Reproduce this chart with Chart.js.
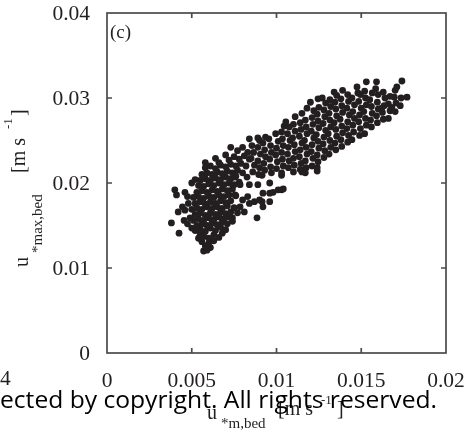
<!DOCTYPE html>
<html>
<head>
<meta charset="utf-8">
<title>u*max,bed vs u*m,bed</title>
<script src="https://cdn.jsdelivr.net/npm/chart.js@4/dist/chart.umd.min.js"></script>
<style>
  html, body { margin: 0; padding: 0; background: #ffffff; }
  canvas { display: block; }
</style>
</head>
<body>
<canvas id="scatterChart" width="466" height="432"></canvas>
<script>

// Axis ticks
const xTickLabels = ['0', '0.005', '0.01', '0.015', '0.02'];
const yTickLabels = ['0', '0.01', '0.02', '0.03', '0.04'];

// Dense cloud at low u*m,bed
const coreCluster = [
  [5.7, 12.0], [5.9, 12.1], [6.1, 12.4], [5.8, 12.6], [6.0, 12.9], [5.6, 13.1], [6.3, 13.2],
  [5.4, 13.5], [5.7, 13.7], [6.0, 13.5], [6.3, 13.9], [6.6, 13.6], [5.5, 14.0], [6.8, 14.1],
  [5.2, 14.4], [5.5, 14.6], [5.8, 14.3], [6.1, 14.7], [6.4, 14.4], [6.7, 14.8], [7.0, 14.5], [5.0, 14.7],
  [5.3, 15.0], [5.6, 15.2], [5.9, 15.0], [6.2, 15.3], [6.5, 15.1], [6.8, 15.4], [7.1, 15.2], [7.4, 15.5],
  [5.1, 15.6], [5.4, 15.8], [5.7, 15.6], [6.0, 15.9], [6.3, 15.7], [6.6, 16.0], [6.9, 15.8], [7.2, 16.0], [4.9, 15.9],
  [5.2, 16.3], [5.5, 16.5], [5.8, 16.2], [6.1, 16.5], [6.4, 16.3], [6.7, 16.6], [7.0, 16.4], [7.3, 16.6],
  [5.0, 16.9], [5.3, 17.1], [5.6, 16.9], [5.9, 17.2], [6.2, 17.0], [6.5, 17.2], [6.8, 17.0], [7.1, 17.3], [7.5, 17.1],
  [5.2, 17.6], [5.5, 17.8], [5.8, 17.5], [6.1, 17.8], [6.4, 17.6], [6.7, 17.9], [7.0, 17.7], [7.3, 17.9],
  [5.1, 18.3], [5.4, 18.4], [5.7, 18.2], [6.0, 18.5], [6.3, 18.3], [6.6, 18.6], [6.9, 18.4], [7.2, 18.6], [7.6, 18.5],
  [5.3, 18.9], [5.6, 19.1], [5.9, 18.9], [6.2, 19.2], [6.5, 19.0], [6.8, 19.3], [7.1, 19.1], [7.4, 19.3],
  [5.4, 19.7], [5.7, 19.6], [6.0, 19.9], [6.3, 19.7], [6.6, 20.0], [6.9, 19.8], [7.2, 20.0], [7.5, 19.8], [7.8, 20.1],
  [5.5, 20.3], [5.8, 20.5], [6.1, 20.3], [6.4, 20.6], [6.7, 20.4], [7.0, 20.7], [7.3, 20.5], [7.6, 20.8],
  [5.6, 21.0], [5.9, 21.2], [6.2, 21.0], [6.5, 21.3], [6.8, 21.1], [7.1, 21.4], [7.4, 21.2], [7.7, 21.5], [8.0, 21.2],
  [5.8, 21.8], [6.1, 22.0], [6.4, 21.7], [6.7, 22.1], [7.0, 21.9], [7.3, 22.2], [7.6, 22.0], [7.9, 22.3], [8.2, 22.0],
  [5.8, 22.4], [6.4, 22.9], [6.6, 22.4], [7.0, 23.3], [7.2, 22.7], [7.5, 23.1], [7.8, 22.8], [8.1, 23.2], [8.4, 22.8],
  [7.3, 24.2], [7.7, 23.8], [8.0, 24.2], [8.3, 23.6], [8.4, 25.2], [8.9, 25.3]
];

// Loose points to the left of the core
const leftScatter = [
  [3.8, 15.3], [4.25, 14.1], [4.55, 15.6], [4.75, 15.2], [4.2, 16.6], [4.45, 17.2], [4.6, 16.8],
  [4.8, 17.6], [4.0, 19.2], [4.1, 18.6], [4.6, 18.9], [4.75, 18.4], [5.0, 20.0], [5.2, 20.4]
];

// Sparse points between the core and the upper branch
const transition = [
  [7.4, 15.9], [7.7, 16.5], [8.1, 16.6], [7.85, 17.2], [8.0, 18.0], [7.55, 18.6], [8.3, 18.4],
  [8.85, 15.9], [9.2, 17.2], [9.6, 17.8], [9.15, 17.8], [8.7, 17.8], [8.4, 17.6], [9.0, 18.0],
  [9.2, 18.8], [9.6, 18.8], [9.8, 18.9], [10.3, 19.2], [10.4, 19.3], [10.1, 19.2], [9.6, 20.0],
  [8.9, 19.8], [8.4, 19.8], [7.85, 19.8], [7.55, 20.7], [8.26, 20.7], [9.15, 20.9], [9.7, 21.2],
  [10.3, 20.9], [11.0, 21.3], [11.7, 21.2], [11.5, 21.3], [12.4, 21.4], [12.4, 21.8]
];

// Upper branch, u*m,bed > 0.0085
const upperBranch = [
  [8.6, 21.3], [8.7, 22.1], [8.5, 22.9], [8.65, 23.6], [8.55, 24.4],
  [8.95, 21.0], [9.0, 21.8], [8.9, 22.6], [9.05, 23.4], [8.9, 24.2], [9.0, 25.0],
  [9.3, 21.5], [9.25, 22.3], [9.35, 23.1], [9.3, 23.9], [9.2, 24.7], [9.35, 25.4],
  [9.65, 21.9], [9.6, 22.8], [9.7, 23.6], [9.65, 24.4], [9.55, 25.2],
  [10.0, 21.7], [10.05, 22.5], [9.95, 23.3], [10.0, 24.1], [10.1, 24.9], [9.95, 25.8],
  [10.3, 21.2], [10.4, 22.0], [10.35, 22.8], [10.3, 23.6], [10.4, 24.4], [10.35, 25.2], [10.3, 26.0], [10.45, 26.7],
  [10.7, 21.8], [10.75, 22.6], [10.65, 23.4], [10.7, 24.2], [10.8, 25.0], [10.65, 25.8], [10.75, 26.6], [10.55, 27.2],
  [11.05, 22.1], [11.0, 22.9], [11.1, 23.7], [11.05, 24.5], [10.95, 25.3], [11.1, 26.1], [11.0, 26.9], [11.1, 27.8],
  [11.4, 21.6], [11.45, 22.3], [11.35, 23.1], [11.4, 23.9], [11.5, 24.7], [11.35, 25.5], [11.45, 26.3], [11.4, 27.1], [11.5, 28.2],
  [11.75, 21.8], [11.7, 22.6], [11.8, 23.4], [11.75, 24.2], [11.65, 25.0], [11.8, 25.8], [11.75, 26.6], [11.7, 27.4], [11.8, 28.8],
  [12.1, 22.0], [12.15, 22.9], [12.05, 23.7], [12.1, 24.5], [12.2, 25.3], [12.05, 26.1], [12.15, 26.9], [12.1, 27.7], [12.2, 28.5], [12.0, 29.5],
  [12.45, 22.5], [12.4, 23.3], [12.5, 24.1], [12.45, 24.9], [12.35, 25.7], [12.5, 26.5], [12.45, 27.3], [12.4, 28.1], [12.5, 28.9], [12.45, 29.9],
  [12.8, 23.0], [12.85, 23.8], [12.75, 24.6], [12.8, 25.4], [12.9, 26.2], [12.75, 27.0], [12.85, 27.8], [12.8, 28.6], [12.9, 29.4], [12.7, 30.0],
  [13.1, 23.4], [13.2, 24.2], [13.15, 25.0], [13.05, 25.8], [13.2, 26.6], [13.15, 27.4], [13.1, 28.2], [13.2, 29.0], [13.15, 29.8], [13.4, 30.7],
  [13.5, 23.9], [13.45, 24.7], [13.55, 25.5], [13.5, 26.3], [13.4, 27.1], [13.55, 27.9], [13.5, 28.7], [13.45, 29.5], [13.55, 30.3], [13.9, 30.9],
  [13.85, 24.3], [13.8, 25.1], [13.9, 25.9], [13.85, 26.7], [13.75, 27.5], [13.9, 28.3], [13.85, 29.1], [13.8, 29.9],
  [14.2, 24.8], [14.25, 25.6], [14.15, 26.4], [14.2, 27.2], [14.3, 28.0], [14.15, 28.8], [14.25, 29.6], [14.2, 30.4],
  [14.45, 25.1], [14.55, 26.0], [14.5, 26.8], [14.6, 27.6], [14.5, 28.4], [14.6, 29.2], [14.45, 30.0], [14.8, 30.6], [14.75, 31.3],
  [14.9, 25.6], [14.95, 26.4], [14.85, 27.2], [14.9, 28.0], [15.0, 28.8], [14.85, 29.6], [14.95, 30.4],
  [15.2, 25.8], [15.3, 26.8], [15.25, 27.6], [15.15, 28.4], [15.3, 29.2], [15.25, 30.0], [15.2, 30.8], [15.3, 31.9],
  [15.6, 26.6], [15.55, 27.4], [15.65, 28.2], [15.6, 29.0], [15.5, 29.8], [15.65, 30.6], [15.9, 31.9],
  [15.95, 27.1], [15.9, 27.9], [16.0, 28.7], [15.95, 29.5], [16.0, 30.4], [15.85, 31.1],
  [16.3, 27.5], [16.25, 28.3], [16.35, 29.1], [16.2, 28.8], [16.4, 30.0], [16.3, 30.7],
  [16.6, 27.6], [16.7, 28.5], [16.6, 29.3], [16.8, 28.9], [16.7, 30.2],
  [17.0, 28.4], [17.05, 29.4], [17.0, 30.9], [17.1, 31.3], [16.95, 30.1],
  [17.3, 29.1], [17.4, 32.0], [17.7, 30.1], [17.35, 30.0]
];

const panelLabel = '(c)';
const xTitleParts = ['u', '*m,bed', '[m s', '-1', ']'];
const yTitleParts = ['u', '*max,bed', '[m s', '-1', ']'];

const INK = '#231f20';
const AXIS = '#4a4a4a';
const SERIF = '"Liberation Serif", "Times New Roman", serif';

// mm s-1 -> m s-1
const toPoints = (list) => list.map(([x, y]) => ({ x: x / 1000, y: y / 1000 }));
const allPoints = [coreCluster, leftScatter, transition, upperBranch].flatMap(toPoints);

// Box frame with inward ticks on all four sides
const framePlugin = {
  id: 'frame',
  afterDatasetsDraw(chart) {
    const { ctx, chartArea: a, scales: { x, y } } = chart;
    ctx.save();
    ctx.strokeStyle = AXIS;
    ctx.lineWidth = 1.7;
    ctx.strokeRect(a.left, a.top, a.right - a.left, a.bottom - a.top);
    ctx.beginPath();
    x.ticks.forEach((t) => {
      const px = x.getPixelForValue(t.value);
      if (px <= a.left + 1 || px >= a.right - 1) return;
      ctx.moveTo(px, a.bottom); ctx.lineTo(px, a.bottom - 5);
      ctx.moveTo(px, a.top); ctx.lineTo(px, a.top + 5);
    });
    y.ticks.forEach((t) => {
      const py = y.getPixelForValue(t.value);
      if (py <= a.top + 1 || py >= a.bottom - 1) return;
      ctx.moveTo(a.left, py); ctx.lineTo(a.left + 5, py);
      ctx.moveTo(a.right, py); ctx.lineTo(a.right - 5, py);
    });
    ctx.stroke();
    ctx.restore();
  }
};

// Panel letter, axis titles with sub/superscripts, and the page overlay text
const labelsPlugin = {
  id: 'labels',
  afterDraw(chart) {
    const { ctx } = chart;
    const piece = (text, x, y, size) => {
      ctx.font = `${size}px ${SERIF}`;
      ctx.fillText(text, x, y);
    };
    ctx.save();
    ctx.fillStyle = INK;
    ctx.textBaseline = 'alphabetic';
    ctx.textAlign = 'left';

    piece(panelLabel, 110, 38, 19);
    piece('4', 0, 385, 21.5);

    // x title
    piece(xTitleParts[0], 207, 419, 20);
    piece(xTitleParts[1], 221, 428, 15);
    piece(xTitleParts[2], 278, 415, 20);
    piece(xTitleParts[3], 321, 404, 13);
    piece(xTitleParts[4], 337, 415, 20);

    // y title, rotated to read bottom to top
    ctx.save();
    ctx.rotate(-Math.PI / 2);
    piece(yTitleParts[0], -267, 28, 20);
    piece(yTitleParts[1], -253, 42, 15);
    piece(yTitleParts[2], -173, 25, 20);
    piece(yTitleParts[3], -129, 12, 13);
    piece(yTitleParts[4], -116, 25, 20);
    ctx.restore();

    // overlay line, its first letters fall off the left edge
    const head = 'Prot';
    const full = 'Protected by copyright. All rights reserved.';
    ctx.fillStyle = '#000000';
    ctx.font = '23px "Open Sans", "Noto Sans", sans-serif';
    const tailWidth = ctx.measureText(full.slice(head.length)).width;
    const sx = 437 / tailWidth;
    ctx.translate(0, 408);
    ctx.scale(sx, 1);
    ctx.fillText(full, -ctx.measureText(head).width, 0);
    ctx.restore();
  }
};

const ScatterChart = {
  chart: null,

  init() {
    const ctx = document.getElementById('scatterChart');
    if (!ctx) return;

    // grid is hidden; its tickLength is only used to push the labels off the axis
    this.chart = new Chart(ctx, {
      type: 'scatter',
      data: {
        datasets: [{
          label: 'u*max,bed',
          data: allPoints,
          pointRadius: 3.4,
          pointHoverRadius: 3.4,
          pointBackgroundColor: INK,
          pointBorderWidth: 0,
          borderWidth: 0
        }]
      },
      options: {
        responsive: false,
        devicePixelRatio: 1,
        animation: false,
        layout: { padding: { top: 13, right: 20, left: 0, bottom: 0 } },
        plugins: {
          legend: { display: false },
          tooltip: { enabled: false }
        },
        scales: {
          x: {
            type: 'linear',
            min: 0,
            max: 0.02,
            grid: { display: false, drawTicks: true, tickLength: 15 },
            border: { display: false },
            afterFit: (scale) => { scale.height = 79; },
            ticks: {
              stepSize: 0.005,
              autoSkip: false,
              maxRotation: 0,
              padding: 0,
              color: INK,
              font: { family: SERIF, size: 21.5 },
              callback: (value, index) => xTickLabels[index]
            }
          },
          y: {
            type: 'linear',
            min: 0,
            max: 0.04,
            grid: { display: false, drawTicks: true, tickLength: 17 },
            border: { display: false },
            afterFit: (scale) => { scale.width = 107; },
            ticks: {
              stepSize: 0.01,
              autoSkip: false,
              padding: 0,
              labelOffset: 1.5,
              color: INK,
              font: { family: SERIF, size: 21.5 },
              callback: (value, index) => yTickLabels[index]
            }
          }
        }
      },
      plugins: [framePlugin, labelsPlugin]
    });
  }
};

ScatterChart.init();
</script>
</body>
</html>
